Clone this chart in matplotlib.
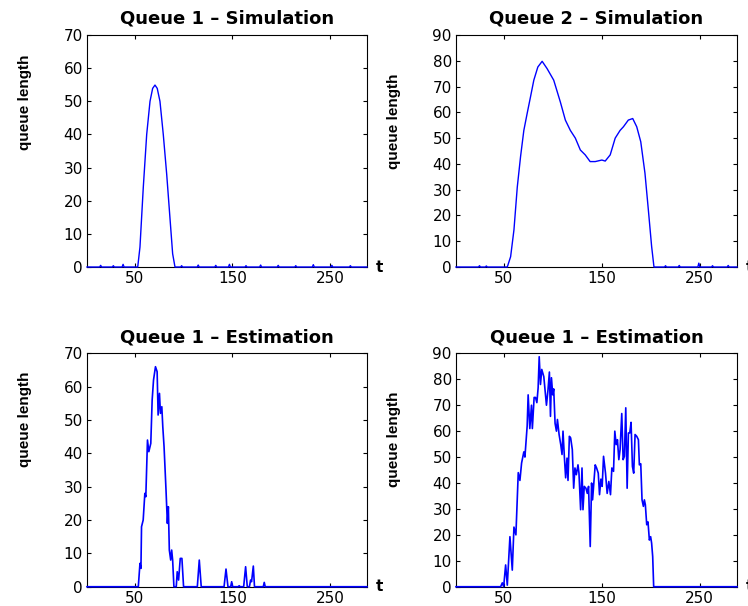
import matplotlib
matplotlib.use("Agg")
import matplotlib.pyplot as plt

# time axis runs over 288 samples
t_limits = (1, 288)
x_ticks = [50, 150, 250]

# Queue 1 - simulation
q1_sim_t = [1, 14, 15, 16, 27, 28, 29, 37, 38, 39, 53, 55.3, 58.7, 62.2, 65.6,
            68.3, 70.7, 73.0, 75.8, 79.2, 82.7, 86.0, 88.8, 91.2, 97, 98, 99,
            114, 115, 116, 132, 133, 134, 146, 147, 148, 163, 164, 165, 178, 179,
            180, 196, 197, 198, 214, 215, 216, 232, 233, 234, 251, 252, 253, 270,
            271, 272, 288]
q1_sim = [0, 0, 0.5, 0, 0, 0.4, 0, 0, 0.8, 0, 0, 6, 24, 40, 50,
          53.9, 54.9, 53.9, 50, 40, 28, 15, 4, 0, 0, 0.4, 0,
          0, 0.6, 0, 0, 0.5, 0, 0, 0.8, 0, 0, 0.4, 0, 0, 0.6,
          0, 0, 0.5, 0, 0, 0.4, 0, 0, 0.7, 0, 0, 0.5, 0, 0,
          0.4, 0, 0]

# Queue 2 - simulation
q2_sim_t = [1, 24, 25, 26, 31, 32, 33, 53.4, 56.8, 60.2, 63.6, 67.0, 70.3, 73.7,
            77.1, 80.5, 84.6, 89.0, 94.0, 100.8, 107.6, 112.7, 117.8, 122.9,
            128.0, 133.0, 138.0, 143.2, 150.0, 153.4, 158.5, 163.6, 168.6, 172.0,
            177.0, 181.5, 185.6, 189.7, 194.0, 197.5, 200.8, 203.2, 214, 215, 216,
            228, 229, 230, 248, 249, 250, 262, 263, 264, 278, 279, 280, 288]
q2_sim = [0, 0, 0.5, 0, 0, 0.4, 0, 0, 4, 14.4, 31, 43, 53, 59.6,
          66, 72.5, 77.6, 79.8, 77, 72.5, 64, 57, 53, 50,
          45.4, 43.5, 40.9, 40.9, 41.5, 41.1, 43.5, 50, 53, 54.4,
          57, 57.6, 54.4, 48.6, 36.4, 22, 8, 0, 0, 0.5, 0,
          0, 0.6, 0, 0, 1.5, 0, 0, 0.5, 0, 0, 0.6, 0, 0]

# Queue 1 - estimation (bottom left)
q1_est_t = [1, 53.6, 55.3, 56.3, 56.9, 58.6, 60.3, 61.3, 63.0, 64.4, 66.4, 67.8,
            69.2, 71.2, 72.9, 73.9, 75.3, 76.3, 77.7, 78.7, 80.0, 82.0, 83.4,
            84.4, 85.4, 86.8, 87.8, 88.8, 90.1, 92.5, 93.5, 94.9, 96.6, 98.3,
            100.0, 114.1, 116.1, 118.1, 141.5, 143.5, 145.5, 148.3, 149.3, 150.3,
            156.0, 157.0, 158.0, 161.6, 163.6, 165.3, 167.5, 168.7, 169.7, 171.5,
            172.7, 181.7, 182.7, 183.7, 288]
q1_est = [0, 0, 7, 5.5, 18, 20, 28, 27, 44, 40.5, 43, 56,
          62, 66, 64.5, 51.5, 58, 52, 54, 48, 42, 29, 19,
          24, 11, 8, 11, 8, 0, 0, 4.5, 2, 8.5, 8.5,
          0, 0, 8, 0, 0, 5.3, 0, 0, 1.5, 0,
          0, 0.3, 0, 0, 6, 0, 0, 2, 1.5, 6.2,
          0, 0, 1.3, 0, 0]

# second estimation panel (bottom right)
q2_est_t = [1, 46.6, 48.3, 49.7, 51.7, 53.4, 56.1, 58.5, 60.2, 62.2, 64.6, 66.3,
            68.0, 70.3, 71.4, 73.7, 74.7, 76.4, 78.1, 79.0, 80.8, 82.2, 83.6,
            84.9, 86.0, 87.3, 88.6, 90.7, 93.4, 95.0, 96.4, 97.5, 98.5, 99.8,
            100.8, 102.2, 103.6, 104.6, 106.3, 108.0, 109.3, 110.3, 111.7, 113.0,
            114.4, 115.4, 116.8, 118.1, 119.8, 121.2, 122.5, 123.9, 125.6, 126.6,
            128.3, 129.7, 130.7, 132.0, 133.7, 135.1, 136.4, 138.1, 139.5, 140.5,
            141.9, 143.2, 144.6, 146.3, 147.6, 149.0, 150.3, 151.7, 153.7, 155.4,
            157.1, 158.8, 160.2, 161.9, 163.2, 164.6, 165.9, 167.3, 168.6, 170.3,
            171.7, 173.0, 174.4, 175.8, 177.1, 178.5, 179.8, 181.2, 182.5, 183.9,
            185.6, 187.3, 188.3, 189.7, 191.0, 192.4, 193.4, 194.4, 195.8, 197.1,
            198.5, 199.8, 200.8, 201.9, 202.9, 288]
q2_est = [0, 0, 1.5, 0, 8.4, 0.6, 19.3, 6.4, 23, 20, 44, 41,
          47.7, 52, 50, 62, 74, 61, 70, 61, 73, 73, 71,
          76.7, 88.7, 78, 83.8, 81, 70, 76, 82.8, 65.7, 80.6, 74,
          76.3, 63, 60, 64.5, 58.7, 54.8, 51, 60, 50, 42,
          49.6, 41, 58, 57.4, 52.9, 38, 45.8, 43.2, 47, 43.8,
          29.7, 45.8, 29.7, 38.7, 38, 36, 38.7, 15.5, 40, 33.5,
          40.6, 47, 45.8, 43.8, 35.5, 41.5, 38.7, 50.3, 43.8, 36,
          40.6, 35.5, 45.8, 44.5, 60, 54.8, 56.7, 49, 52.9, 66.8,
          49, 50.3, 69, 38, 59.3, 59.3, 63.4, 46.4, 43.8, 58.7,
          58, 56.7, 47, 47.4, 33.5, 31, 33.5, 31.6, 23.9, 25,
          18, 19.3, 16.8, 11.6, 0, 0]


def draw_panel(fig, rect, t, q, title, ymax, label_y, lw):
    ax = fig.add_axes(rect)
    ax.plot(t, q, color="blue", lw=lw, zorder=3, clip_on=False)
    ax.set_xlim(*t_limits)
    ax.set_ylim(0, ymax)
    ax.set_xticks(x_ticks)
    ax.set_yticks(range(0, ymax + 1, 10))
    ax.tick_params(direction="in", top=True, right=True, length=3,
                   labelsize=11, width=0.8)
    ax.tick_params(axis="x", pad=3)
    ax.tick_params(axis="y", pad=3)
    ax.set_title(title, fontweight="bold", fontsize=13, pad=8)
    ax.set_ylabel("queue length", fontweight="bold", fontsize=11,
                  family="Liberation Sans")
    ax.yaxis.set_label_coords(-0.197, label_y)
    ax.text(1.046, 0, "t", transform=ax.transAxes, ha="center", va="center",
            fontweight="bold", fontsize=11)
    return ax


fig = plt.figure(figsize=(7.48, 6.06), dpi=100)
draw_panel(fig, [0.1163, 0.5594, 0.3743, 0.3828], q1_sim_t, q1_sim,
           "Queue 1 – Simulation", 70, 0.711, 1.0)
draw_panel(fig, [0.6096, 0.5594, 0.3757, 0.3828], q2_sim_t, q2_sim,
           "Queue 2 – Simulation", 90, 0.629, 1.0)
draw_panel(fig, [0.1163, 0.0318, 0.3743, 0.3851], q1_est_t, q1_est,
           "Queue 1 – Estimation", 70, 0.716, 1.2)
draw_panel(fig, [0.6096, 0.0318, 0.3757, 0.3851], q2_est_t, q2_est,
           "Queue 1 – Estimation", 90, 0.63, 1.2)
fig.savefig("out.png", dpi=100)
plt.close(fig)
